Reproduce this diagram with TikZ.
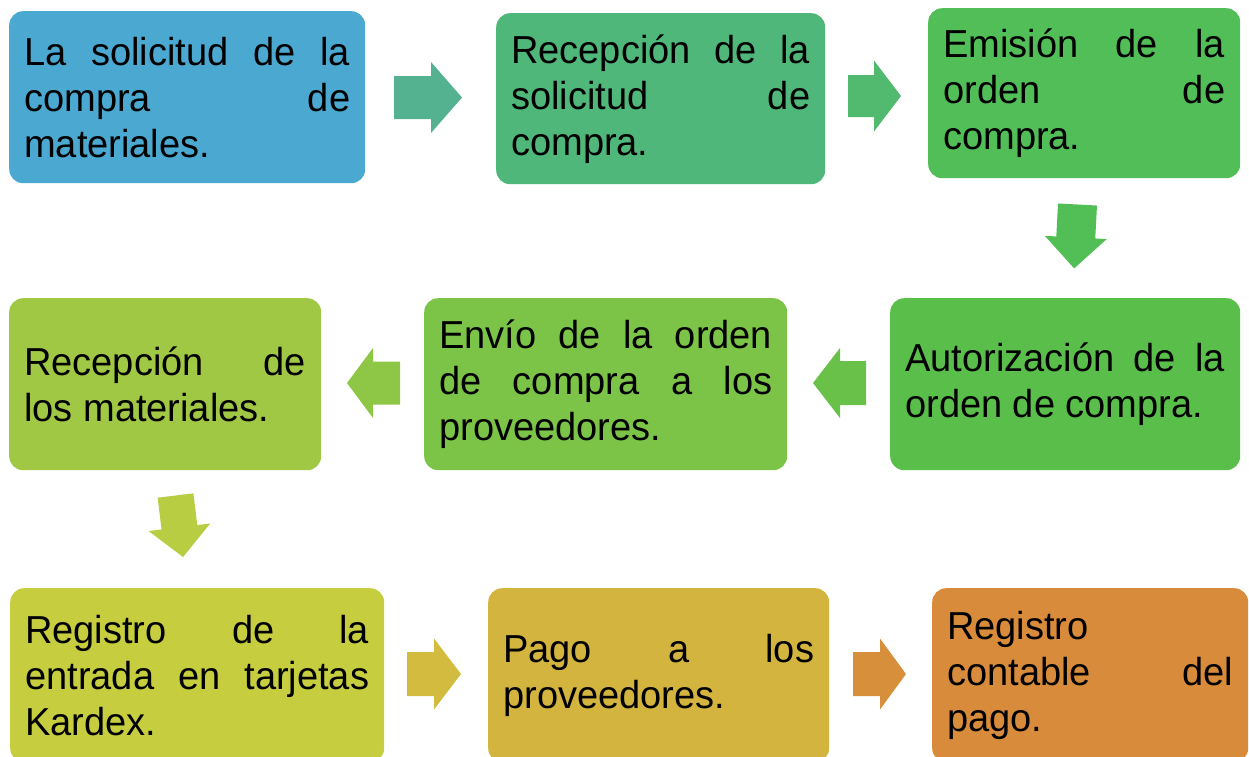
\documentclass[tikz,border=0pt]{standalone}
\usepackage{fontspec}
\setmainfont[FakeStretch=0.975]{Liberation Sans}
\newcommand\boxtextfont{\fontsize{39}{46}\selectfont\hyphenpenalty=10000\exhyphenpenalty=10000\tolerance=10000\hbadness=10000}
\definecolor{cB1}{RGB}{74,168,209}
\definecolor{cA1}{RGB}{84,178,144}
\definecolor{cB2}{RGB}{80,183,122}
\definecolor{cA2}{RGB}{82,186,110}
\definecolor{cB3}{RGB}{82,190,88}
\definecolor{cA3}{RGB}{82,190,86}
\definecolor{cB6}{RGB}{90,190,75}
\definecolor{cA4}{RGB}{106,193,73}
\definecolor{cB5}{RGB}{124,196,71}
\definecolor{cA5}{RGB}{142,198,70}
\definecolor{cB4}{RGB}{160,200,69}
\definecolor{cA6}{RGB}{184,205,66}
\definecolor{cB7}{RGB}{198,206,64}
\definecolor{cA7}{RGB}{210,187,62}
\definecolor{cB8}{RGB}{211,180,62}
\definecolor{cA8}{RGB}{216,143,60}
\definecolor{cB9}{RGB}{216,139,59}
% block arrow: colour, tail point, angle, shaft length, head length, shaft width, head width
\newcommand\blockarrow[7]{%
  \begin{scope}[shift={#2},rotate=#3]
    \fill[#1] (0,-#6/2) -- (#4,-#6/2) -- (#4,-#7/2) -- (#4+#5,0) -- (#4,#7/2) -- (#4,#6/2) -- (0,#6/2) -- cycle;
  \end{scope}}
\begin{document}
\begin{tikzpicture}[x=1pt,y=-1pt,
  box/.style={rectangle, rounded corners=14pt, anchor=north west, inner xsep=15pt, inner ysep=0pt,
    align=justify, font=\boxtextfont, text=black, minimum height=172pt}]
\clip (0,0) rectangle (1249,756);
% row 1
\node[box, fill=cB1, minimum width=356pt, text width=326pt] (b1) at (9,11)
  {La solicitud de la\linebreak compra de\linebreak materiales.};
\node[box, fill=cB2, minimum width=329pt, text width=299pt, minimum height=171pt] (b2) at (496,13)
  {Recepción de la\linebreak solicitud de\linebreak compra.};
\node[box, fill=cB3, minimum width=312pt, text width=282pt, minimum height=170pt] (b3) at (928,8)
  {Emisión de la\linebreak orden de\linebreak compra.};
% row 2
\node[box, fill=cB6, minimum width=350pt, text width=320pt] (b6) at (890,298)
  {Autorización de la\linebreak orden de compra.};
\node[box, fill=cB5, minimum width=363pt, text width=333pt] (b5) at (424,298)
  {Envío de la orden\linebreak de compra a los\linebreak proveedores.};
\node[box, fill=cB4, minimum width=312pt, text width=282pt] (b4) at (9,298)
  {Recepción de\linebreak los materiales.};
% row 3
\node[box, fill=cB7, minimum width=374pt, text width=344pt, minimum height=174pt] (b7) at (10,588)
  {Registro de la\linebreak entrada en tarjetas\linebreak Kardex.};
\node[box, fill=cB8, minimum width=341pt, text width=311pt, minimum height=174pt] (b8) at (488,588)
  {Pago a los\linebreak proveedores.};
\node[box, fill=cB9, minimum width=316pt, text width=286pt, minimum height=174pt] (b9) at (932,588)
  {Registro\linebreak contable del\linebreak pago.};
% arrows
\blockarrow{cA1}{(394,97.5)}{0}{37}{31}{43}{71}
\blockarrow{cA2}{(848,96)}{0}{26}{27}{42}{71}
\blockarrow{cA3}{(1077.5,204.5)}{-93}{33}{31}{39}{62}
\blockarrow{cA4}{(866,383)}{180}{26}{27}{44}{70}
\blockarrow{cA5}{(400,383)}{180}{27}{26}{43}{70}
\blockarrow{cA6}{(175.5,495.5)}{-83}{32}{30}{36}{62}
\blockarrow{cA7}{(407,674)}{0}{27}{27}{44}{71}
\blockarrow{cA8}{(853,674)}{0}{27}{26}{44}{71}
\end{tikzpicture}
\end{document}
